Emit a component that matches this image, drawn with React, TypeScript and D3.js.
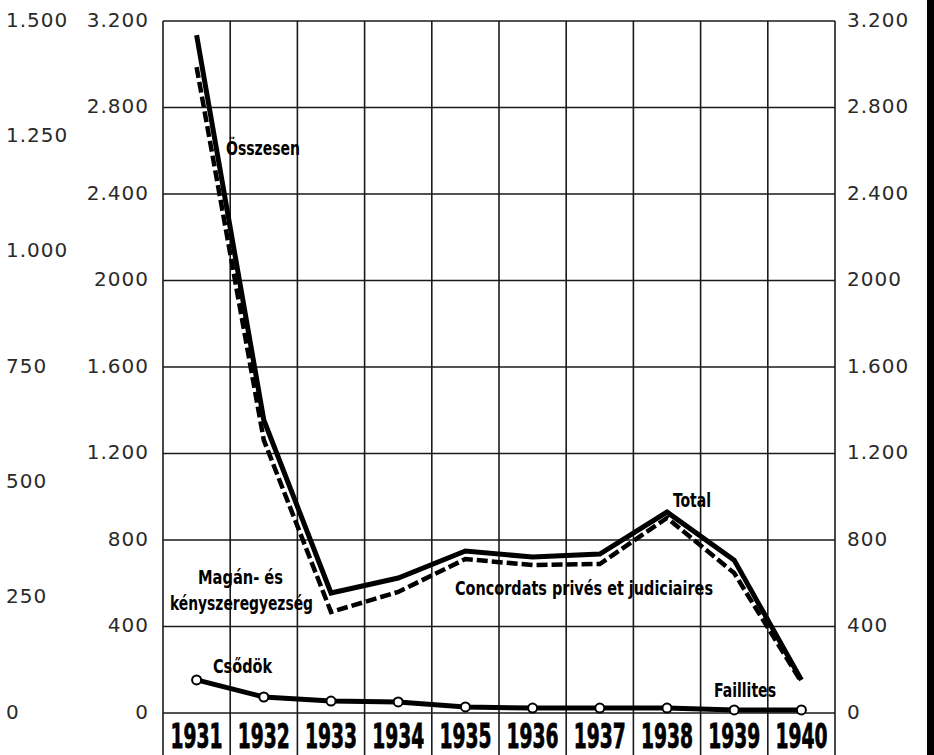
import React, { useLayoutEffect, useRef, useState } from "react";
import * as d3 from "d3";

const years = ["1931", "1932", "1933", "1934", "1935", "1936", "1937", "1938", "1939", "1940"];
const totalValues = [3135, 1355, 555, 624, 749, 721, 735, 929, 707, 153];
const concordatValues = [2987, 1262, 467, 560, 712, 684, 689, 902, 647, 143];
const csodokValues = [153, 74, 55, 51, 28, 23, 23, 23, 14, 14];

const innerTicks = [0, 400, 800, 1200, 1600, 2000, 2400, 2800, 3200];
const innerTickLabels = ["0", "400", "800", "1.200", "1.600", "2000", "2.400", "2.800", "3.200"];
const outerTicks = [0, 250, 500, 750, 1000, 1250, 1500];
const outerTickLabels = ["0", "250", "500", "750", "1.000", "1.250", "1.500"];

const W = 934;
const H = 755;
const left = 163;
const right = 835;
const top = 21;
const bottom = 713;

export default function App() {
  const x = d3.scaleBand<string>().domain(years).range([left, right]).padding(0);
  const y = d3.scaleLinear().domain([0, 3200]).range([bottom, top]);
  const y2 = d3.scaleLinear().domain([0, 1500]).range([bottom, top]);
  const cx = (yr: string) => (x(yr) as number) + x.bandwidth() / 2;

  const line = d3
    .line<number>()
    .x((_, i) => cx(years[i]))
    .y((d) => y(d));

  const vLines = [...years.map((yr) => x(yr) as number), right];
  const tickFont = "'DejaVu Sans', sans-serif";
  const labFont = "'Liberation Sans Narrow', 'DejaVu Sans Condensed', sans-serif";

  const measureRef = useRef<SVGTextElement>(null);
  const [yearScale, setYearScale] = useState(0.7);
  useLayoutEffect(() => {
    if (measureRef.current) {
      const w = measureRef.current.getComputedTextLength();
      if (w > 0) setYearScale(52 / w);
    }
  }, []);

  return (
    <svg
      width={W}
      height={H}
      viewBox={`0 0 ${W} ${H}`}
      style={{ position: "absolute", left: 0, top: 0, background: "#fff" }}
    >
      <rect x={0} y={0} width={W} height={H} fill="#fff" />
      {/* grid */}
      {innerTicks.map((t) => (
        <line key={"h" + t} x1={left} x2={right} y1={y(t)} y2={y(t)} stroke="#1a1a1a" strokeWidth={1.4} />
      ))}
      {vLines.map((vx, i) => (
        <line key={"v" + i} x1={vx} x2={vx} y1={top} y2={H} stroke="#1a1a1a" strokeWidth={1.6} />
      ))}

      {/* left outer axis labels */}
      {outerTicks.map((t, i) => (
        <text
          key={"o" + t}
          x={6}
          y={y2(t)}
          dominantBaseline="middle"
          fontFamily={tickFont}
          fontSize={20}
          letterSpacing={1}
          fill="#2a2a2a"
        >
          {outerTickLabels[i]}
        </text>
      ))}
      {/* left inner axis labels */}
      {innerTicks.map((t, i) => (
        <text
          key={"li" + t}
          x={149}
          y={y(t)}
          textAnchor="end"
          dominantBaseline="middle"
          fontFamily={tickFont}
          fontSize={20}
          letterSpacing={1}
          fill="#2a2a2a"
        >
          {innerTickLabels[i]}
        </text>
      ))}
      {/* right axis labels */}
      {innerTicks.map((t, i) => (
        <text
          key={"r" + t}
          x={847}
          y={y(t)}
          dominantBaseline="middle"
          fontFamily={tickFont}
          fontSize={20}
          letterSpacing={1}
          fill="#2a2a2a"
        >
          {innerTickLabels[i]}
        </text>
      ))}

      {/* hidden measuring text for year labels */}
      <text
        ref={measureRef}
        x={-500}
        y={-500}
        fontFamily={labFont}
        fontWeight="bold"
        fontSize={34}
        visibility="hidden"
      >
        {years[0]}
      </text>

      {/* year labels */}
      {years.map((yr) => (
        <g key={"y" + yr} transform={`translate(${cx(yr)},748) scale(${yearScale},1)`}>
          <text
            x={0}
            y={0}
            textAnchor="middle"
            fontFamily={labFont}
            fontWeight="bold"
            fontSize={34}
            fill="#000"
            stroke="#000"
            strokeWidth={0.8}
          >
            {yr}
          </text>
        </g>
      ))}

      {/* series */}
      <path d={line(concordatValues) as string} fill="none" stroke="#000" strokeWidth={4.5} strokeDasharray="11 4" />
      <path d={line(totalValues) as string} fill="none" stroke="#000" strokeWidth={5} strokeLinejoin="miter" />
      <path d={line(csodokValues) as string} fill="none" stroke="#000" strokeWidth={5} />
      {csodokValues.map((v, i) => (
        <circle key={"c" + i} cx={cx(years[i])} cy={y(v)} r={4.5} fill="#fff" stroke="#000" strokeWidth={2} />
      ))}

      {/* annotations */}
      <g fontFamily={labFont} fontWeight="bold" fontSize={19} fill="#000">
        <text x={226} y={155} textLength={74} lengthAdjust="spacingAndGlyphs">Összesen</text>
        <text x={673} y={507} textLength={38} lengthAdjust="spacingAndGlyphs">Total</text>
        <text x={198} y={584} textLength={85} lengthAdjust="spacingAndGlyphs">Magán- és</text>
        <text x={170} y={610} textLength={143} lengthAdjust="spacingAndGlyphs">kényszeregyezség</text>
        <text x={213} y={673} textLength={59} lengthAdjust="spacingAndGlyphs">Csődök</text>
        <text x={455} y={595} textLength={258} lengthAdjust="spacingAndGlyphs">Concordats privés et judiciaires</text>
        <text x={714} y={697} textLength={62} lengthAdjust="spacingAndGlyphs">Faillites</text>
      </g>

      {/* scan edge bar */}
      <rect x={927} y={0} width={7} height={H} fill="#000" />
    </svg>
  );
}
